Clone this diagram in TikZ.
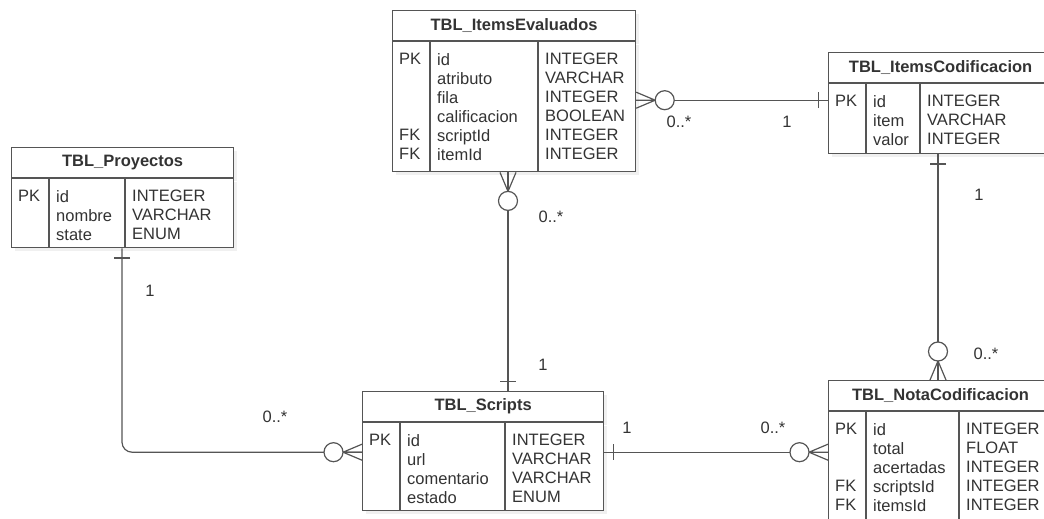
\documentclass[tikz,border=0pt]{standalone}
\usepackage{fontspec}
\setmainfont{Liberation Sans}
\usepackage{tikz}
\usetikzlibrary{
    positioning,  % For relative placement of nodes (below=of)
    calc,         % For shifted anchors
    shadows       % For the soft shadow behind the tables
}

\definecolor{erline}{HTML}{555555}
\definecolor{ertext}{HTML}{333333}

% One ER table: #1 name prefix, #2 top left corner, #3 width, #4 body height,
% #5 title, #6 place of the second rule, #7 keys, #8 fields, #9 types
\newcommand{\ertable}[9]{%
    \node[table_head, minimum width=#3, anchor=north west] (#1Head) at (#2) {#5};
    \node[table_body, minimum width=#3, minimum height=#4, below=0pt of #1Head] (#1Body) {};
    \draw[table_rule] ([xshift=38pt]#1Body.north west) -- ([xshift=38pt]#1Body.south west);
    \draw[table_rule] ([xshift=#6]#1Body.north west) -- ([xshift=#6]#1Body.south west);
    \node[table_col] (#1Keys) at ([xshift=7pt, yshift=-12pt]#1Body.north west) {#7};
    \node[table_col] (#1Fields) at ([xshift=45pt, yshift=-12pt]#1Body.north west) {#8};
    \node[table_col] (#1Types) at ([xshift=#6+7pt, yshift=-12pt]#1Body.north west) {#9};
}

\begin{document}
\begin{tikzpicture}[
    x=1pt, y=-1pt, % Pixel grid of the diagram, y going down
    font=\fontsize{16.5}{19}\selectfont,
    table_head/.style={draw=erline, line width=1.2pt, fill=white, minimum height=30pt, inner sep=0pt,
        text=ertext, font=\fontsize{16.5}{19}\selectfont\bfseries,
        drop shadow={shadow xshift=3pt, shadow yshift=-3pt, opacity=0.12}},
    table_body/.style={draw=erline, line width=1.2pt, fill=white, inner sep=0pt,
        drop shadow={shadow xshift=3pt, shadow yshift=-3pt, opacity=0.12}},
    table_rule/.style={erline, line width=1.2pt},
    table_col/.style={anchor=north west, inner sep=0pt, align=left, text=ertext},
    rel/.style={draw=erline, line width=1.2pt},
    mult/.style={text=ertext, inner sep=1pt},
    zero_many/.pic={
        \draw[rel] (0,-8) -- (19,0) -- (0,8) (0,0) -- (19,0);
        \draw[rel, fill=white] (28.5,0) circle (9.5pt);
    },
    one_bar/.pic={
        \draw[rel] (9.5,-8) -- (9.5,8);
    }
]
    \useasboundingbox (0,0) rectangle (1044,519);
    \clip (0,0) rectangle (1044,519);

    % Tables
    \ertable{ev}{392,10}{243pt}{130pt}{TBL\_ItemsEvaluados}{146pt}
        {PK\\~\\~\\~\\FK\\FK}
        {id\\atributo\\fila\\calificacion\\scriptId\\itemId}
        {INTEGER\\VARCHAR\\INTEGER\\BOOLEAN\\INTEGER\\INTEGER}
    \ertable{pr}{11,147}{222pt}{69pt}{TBL\_Proyectos}{114pt}
        {PK}{id\\nombre\\state}{INTEGER\\VARCHAR\\ENUM}
    \ertable{ic}{828,52}{224pt}{70pt}{TBL\_ItemsCodificacion}{92pt}
        {PK}{id\\item\\valor}{INTEGER\\VARCHAR\\INTEGER}
    \ertable{sc}{362,391}{241pt}{88pt}{TBL\_Scripts}{143pt}
        {PK}{id\\url\\comentario\\estado}{INTEGER\\VARCHAR\\VARCHAR\\ENUM}
    \ertable{nc}{828,380}{224pt}{130pt}{TBL\_NotaCodificacion}{131pt}
        {PK\\~\\~\\FK\\FK}
        {id\\total\\acertadas\\scriptsId\\itemsId}
        {INTEGER\\FLOAT\\INTEGER\\INTEGER\\INTEGER}

    % End points of the relations
    \coordinate (evE) at ([yshift=-59pt]evBody.north east);
    \coordinate (icW) at (evE -| icBody.west);
    \coordinate (evS) at ([xshift=116pt]evBody.south west);
    \coordinate (scN) at (evS |- scHead.north);
    \coordinate (prS) at ([xshift=111pt]prBody.south west);
    \coordinate (scW) at ([yshift=-30pt]scBody.north west);
    \coordinate (scE) at ([yshift=-30pt]scBody.north east);
    \coordinate (ncW) at (scE -| ncBody.west);
    \coordinate (icS) at ([xshift=110pt]icBody.south west);
    \coordinate (ncN) at (icS |- ncHead.north);

    % Relations
    \draw[rel] (evE) -- (icW);
    \draw[rel] (evS) -- (scN);
    \draw[rel, rounded corners=10pt] (prS) |- (scW);
    \draw[rel] (scE) -- (ncW);
    \draw[rel] (icS) -- (ncN);

    % Crow's foot ends
    \pic at (evE) {zero_many};
    \pic[rotate=180] at (icW) {one_bar};
    \pic[rotate=-90] at (evS) {zero_many};
    \pic[rotate=90] at (scN) {one_bar};
    \pic[rotate=-90] at (prS) {one_bar};
    \pic[rotate=180] at (scW) {zero_many};
    \pic at (scE) {one_bar};
    \pic[rotate=180] at (ncW) {zero_many};
    \pic[rotate=-90] at (icS) {one_bar};
    \pic[rotate=90] at (ncN) {zero_many};

    % Multiplicities
    \node[mult] (mEvIc) at (679,122) {0..*};
    \node[mult] (mIcEv) at (787,122) {1};
    \node[mult] (mEvSc) at (551,217) {0..*};
    \node[mult] (mScEv) at (543,365) {1};
    \node[mult] (mPrSc) at (150,291) {1};
    \node[mult] (mScPr) at (275,417) {0..*};
    \node[mult] (mScNc) at (627,428) {1};
    \node[mult] (mNcSc) at (773,428) {0..*};
    \node[mult] (mIcNc) at (979,195) {1};
    \node[mult] (mNcIc) at (986,354) {0..*};
\end{tikzpicture}
\end{document}
